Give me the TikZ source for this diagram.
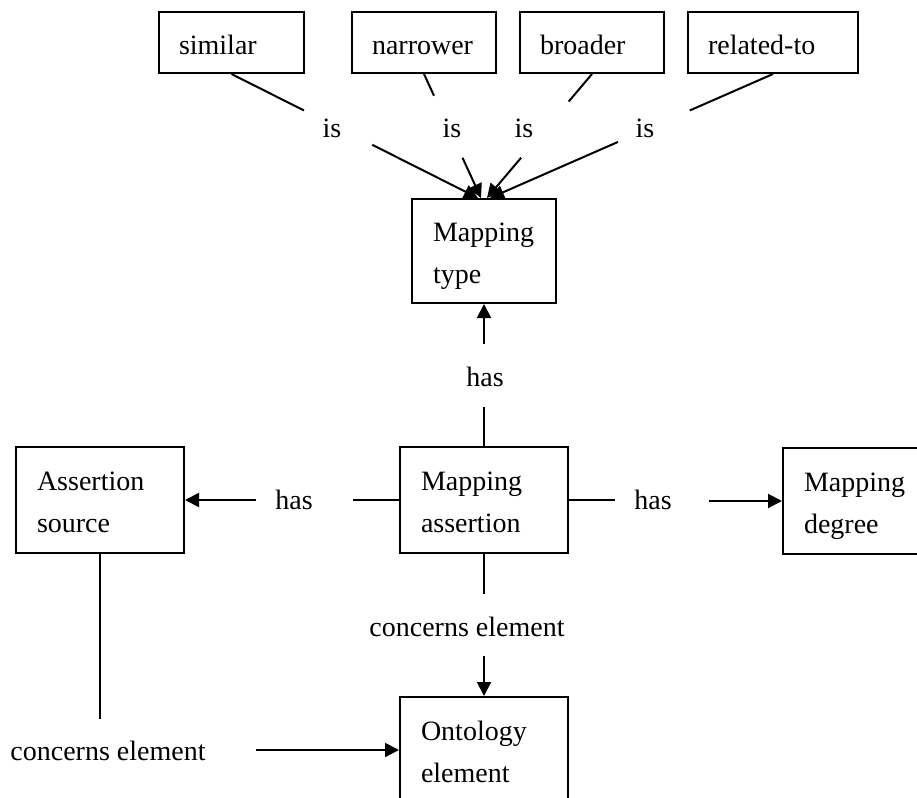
\documentclass[tikz,border=0pt]{standalone}
\usepackage{fontspec}
\setmainfont{Liberation Serif}
\usetikzlibrary{arrows.meta,calc}
\begin{document}
\begin{tikzpicture}[x=1pt,y=-1pt,
  line width=2pt,
  every node/.style={font=\fontsize{28}{42}\selectfont},
  box/.style={draw, rectangle, line width=2pt, align=left, inner ysep=0pt},
  topbox/.style={box, minimum height=61pt, text height=26pt, text depth=1pt},
  twoline/.style={box, text height=28pt, text depth=48pt},
  bigbox/.style={twoline, minimum height=106pt, minimum width=168pt, text width=126pt},
  lbl/.style={inner sep=0pt},
  arr/.style={-{Triangle[length=14pt,width=14pt]}}
]
\clip (0,0) rectangle (917,797);
\useasboundingbox (0,0) rectangle (917,797);

% relation kinds along the top
\node[topbox, minimum width=145pt, text width=105pt] (similar) at (231.5,42.5) {similar};
\node[topbox, minimum width=144pt, text width=104pt] (narrower) at (424,42.5) {narrower};
\node[topbox, minimum width=144pt, text width=104pt] (broader) at (592,42.5) {broader};
\node[topbox, minimum width=170pt, text width=130pt] (related) at (773,42.5) {related-to};

% central concepts
\node[twoline, minimum width=144pt, minimum height=104pt, text width=102pt] (mtype) at (484,251) {Mapping\\type};
\node[bigbox] (massert) at (484,500) {Mapping\\assertion};
\node[bigbox] (asource) at (100,500) {Assertion\\source};
\node[bigbox] (mdegree) at (867,501) {Mapping\\degree};
\node[bigbox] (onto) at (484,750) {Ontology\\element};

% "is" links into the mapping type
\coordinate (t1) at ($(mtype.north)+(-6,0)$);
\coordinate (t2) at ($(mtype.north)+(-3,0)$);
\coordinate (t3) at ($(mtype.north)+(3,0)$);
\coordinate (t4) at ($(mtype.north)+(6,0)$);

\node[lbl] (is1) at (332,128) {is};
\node[lbl] (is2) at (452,128) {is};
\node[lbl] (is3) at (524,128) {is};
\node[lbl] (is4) at (645,128) {is};

\draw (similar.south) -- ($(similar.south)!0.294!(t1)$);
\draw[arr] ($(similar.south)!0.571!(t1)$) -- (t1);
\draw (narrower.south) -- ($(narrower.south)!0.175!(t2)$);
\draw[arr] ($(narrower.south)!0.675!(t2)$) -- (t2);
\draw (broader.south) -- ($(broader.south)!0.222!(t3)$);
\draw[arr] ($(broader.south)!0.675!(t3)$) -- (t3);
\draw (related.south) -- ($(related.south)!0.294!(t4)$);
\draw[arr] ($(related.south)!0.548!(t4)$) -- (t4);

% has: mapping type
\node[lbl] (has1) at (485,377) {has};
\draw (massert.north) -- ++(0,-39);
\draw[arr] ($(mtype.south)+(0,40)$) -- (mtype.south);

% has: assertion source
\node[lbl] (has2) at (294,500) {has};
\draw (massert.west) -- ++(-46,0);
\draw[arr] ($(asource.east)+(71,0)$) -- (asource.east);

% has: mapping degree
\node[lbl] (has3) at (653,500) {has};
\draw (massert.east) -- ++(46,0);
\draw[arr] ($(mdegree.west)+(-73,0)$) -- (mdegree.west);

% concerns element: from the assertion
\node[lbl] (ce1) at (467,627) {concerns element};
\draw (massert.south) -- ++(0,40);
\draw[arr] ($(onto.north)+(0,-40)$) -- (onto.north);

% concerns element: from the source
\node[lbl] (ce2) at (108,751) {concerns element};
\draw (asource.south) -- ++(0,165);
\draw[arr] ($(onto.west)+(-143,0)$) -- (onto.west);
\end{tikzpicture}
\end{document}
